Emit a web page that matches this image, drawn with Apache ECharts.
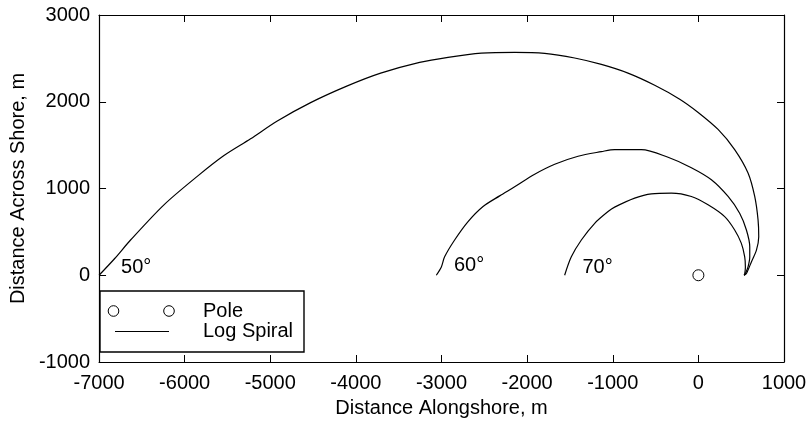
<!DOCTYPE html>
<html>
<head>
<meta charset="utf-8">
<script src="https://cdn.jsdelivr.net/npm/echarts@6/dist/echarts.min.js"></script>
<style>html,body{margin:0;padding:0;background:#fff}#c{width:811px;height:423px}</style>
</head>
<body>
<div id="c"></div>
<script>
// Data
const xTicks = [-7000, -6000, -5000, -4000, -3000, -2000, -1000, 0, 1000];
const yTicks = [-1000, 0, 1000, 2000, 3000];

const spiral50 = [
  [-7000, 0], [-6817, 193], [-6632, 406], [-6242, 812], [-5853, 1140], [-5541, 1380],
  [-5230, 1573], [-4918, 1778], [-4529, 1990], [-4100, 2183], [-3711, 2330],
  [-3256, 2454], [-2924, 2512], [-2535, 2560], [-2146, 2570], [-1795, 2558],
  [-1445, 2504], [-1133, 2430], [-822, 2330], [-510, 2190], [-218, 2030],
  [-6, 1880], [230, 1681], [424, 1449], [580, 1179], [658, 908], [697, 638],
  [705, 444], [678, 290], [619, 154], [561, 20], [534, 0]
];
const spiral60 = [
  [-3061, 0], [-3002, 96], [-2964, 212], [-2847, 406], [-2690, 618], [-2515, 792],
  [-2321, 915], [-2146, 1020], [-1912, 1165], [-1678, 1280], [-1405, 1372],
  [-1133, 1425], [-978, 1449], [-666, 1449], [-354, 1360], [-82, 1240],
  [152, 1101], [347, 908], [482, 715], [561, 522], [600, 328], [600, 212],
  [580, 96], [549, 20], [534, 0]
];
const spiral70 = [
  [-1562, 0], [-1484, 212], [-1367, 406], [-1211, 599], [-1055, 734], [-978, 785],
  [-744, 889], [-549, 939], [-315, 947], [-82, 908], [113, 812], [307, 676],
  [424, 522], [502, 367], [541, 212], [549, 96], [541, 12], [534, 0]
];
const pole = [[0, 0]];
const angleLabels = [
  { name: '50°', value: [-6567, 94] },
  { name: '60°', value: [-2679, 117] },
  { name: '70°', value: [-1177, 94] }
];
const legendNames = ['Pole', 'Log Spiral'];

const FONT = 'Liberation Sans, Arial, Helvetica, sans-serif';
const FS = 20;

const chart = echarts.init(document.getElementById('c'), null, { renderer: 'canvas' });

function lineSeries(data) {
  return {
    type: 'line', data: data, showSymbol: false, symbol: 'none', smooth: 0.3,
    lineStyle: { color: '#000', width: 1.2 }, animation: false, silent: true,
    xAxisIndex: 0, yAxisIndex: 0
  };
}

const baseAxisLine = { show: true, onZero: false, lineStyle: { color: '#000', width: 1.2 } };
const baseTick = { show: true, inside: true, length: 7, lineStyle: { color: '#000', width: 1 } };
const plain = v => String(v);

chart.setOption({
  animation: false,
  backgroundColor: '#fff',
  grid: { left: 97, right: 27, top: 15, bottom: 61, containLabel: false },
  xAxis: [
    {
      type: 'value', position: 'bottom', min: xTicks[0], max: xTicks[xTicks.length - 1], interval: 1000,
      axisLine: baseAxisLine, axisTick: baseTick, splitLine: { show: false },
      axisLabel: { color: '#000', fontFamily: FONT, fontSize: FS, margin: 11, formatter: plain },
      name: 'Distance Alongshore, m', nameLocation: 'middle', nameGap: 36,
      nameTextStyle: { color: '#000', fontFamily: FONT, fontSize: FS }
    },
    {
      type: 'value', position: 'top', min: xTicks[0], max: xTicks[xTicks.length - 1], interval: 1000,
      axisLine: baseAxisLine, axisTick: baseTick, splitLine: { show: false },
      axisLabel: { show: false }
    }
  ],
  yAxis: [
    {
      type: 'value', position: 'left', min: yTicks[0], max: yTicks[yTicks.length - 1], interval: 1000,
      axisLine: baseAxisLine, axisTick: baseTick, splitLine: { show: false },
      axisLabel: { color: '#000', fontFamily: FONT, fontSize: FS, margin: 9, formatter: plain },
      name: 'Distance Across Shore, m', nameLocation: 'middle', nameGap: 70,
      nameTextStyle: { color: '#000', fontFamily: FONT, fontSize: FS }
    },
    {
      type: 'value', position: 'right', min: yTicks[0], max: yTicks[yTicks.length - 1], interval: 1000,
      axisLine: baseAxisLine, axisTick: baseTick, splitLine: { show: false },
      axisLabel: { show: false }
    }
  ],
  series: [
    lineSeries(spiral50),
    lineSeries(spiral60),
    lineSeries(spiral70),
    {
      type: 'scatter', data: pole, symbol: 'circle', symbolSize: 11,
      itemStyle: { color: 'rgba(255,255,255,0)', borderColor: '#000', borderWidth: 1, opacity: 1 },
      silent: true
    },
    {
      type: 'scatter', data: angleLabels, symbolSize: 0, silent: true,
      itemStyle: { opacity: 1 },
      label: { show: true, position: 'inside', formatter: '{b}', color: '#000', opacity: 1,
               fontFamily: FONT, fontSize: FS }
    }
  ],
  graphic: [
    { type: 'rect', shape: { x: 100, y: 291, width: 204, height: 61 },
      style: { fill: '#fff', stroke: '#000', lineWidth: 1.4 }, z: 100 },
    { type: 'circle', shape: { cx: 113.5, cy: 311, r: 5.3 },
      style: { fill: 'none', stroke: '#000', lineWidth: 1 }, z: 101 },
    { type: 'circle', shape: { cx: 169, cy: 311, r: 5.3 },
      style: { fill: 'none', stroke: '#000', lineWidth: 1 }, z: 101 },
    { type: 'line', shape: { x1: 115, y1: 331.5, x2: 169, y2: 331.5 },
      style: { stroke: '#000', lineWidth: 1.2 }, z: 101 },
    { type: 'text', x: 203, y: 311, z: 101,
      style: { text: legendNames[0], fill: '#000', font: FS + 'px ' + FONT, verticalAlign: 'middle' } },
    { type: 'text', x: 203, y: 331, z: 101,
      style: { text: legendNames[1], fill: '#000', font: FS + 'px ' + FONT, verticalAlign: 'middle' } }
  ]
});
</script>
</body>
</html>
